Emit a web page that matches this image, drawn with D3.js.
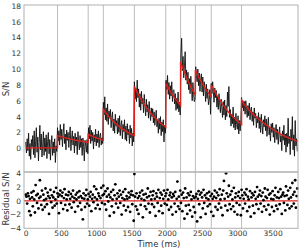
<!DOCTYPE html>
<html>
<head>
<meta charset="utf-8">
<script src="https://cdn.jsdelivr.net/npm/d3@7"></script>
<style>
  body { margin: 0; background: #fff; }
  text { font-family: "DejaVu Sans", sans-serif; fill: #333; }
</style>
</head>
<body>
<script>

// sample step of the recorded trace (ms)
const step = 10;

// stimulus onsets (ms), drawn as grey verticals
const events = [450, 885, 1100, 1540, 1985, 2195, 2405, 2630, 3060];

// recorded S/N trace, one value every 10 ms (rows of 100 ms)
const signal = [
  0.8, -0.6, 1.2, -0.3, 1.9, -1.0, 0.6, -1.4, 1.1, 0.2,
  1.6, -0.8, 2.2, -1.2, 0.9, 2.6, -0.5, 1.4, -1.6, 0.7,
  2.9, -0.2, 1.8, -1.1, 0.4, 2.1, -0.9, 1.3, -0.4, 1.7,
  -1.3, 0.9, 2.0, -0.7, 1.1, -1.5, 0.5, 1.6, -0.9, 0.8,
  -0.6, 1.2, -1.8, 0.3, -0.4, 2.6, 0.9, 2.2, 0.4, 3.0,
  1.1, 2.4, 0.2, 1.9, 3.1, 0.6, 1.8, -0.2, 2.3, 1.0,
  2.0, 0.1, 1.6, 2.7, -0.3, 1.2, 2.2, 0.4, 1.5, -0.6,
  1.9, 0.3, 1.4, -0.8, 2.1, 0.7, -0.2, 1.6, 0.1, 1.2,
  -0.9, 1.3, 0.2, -1.6, 1.0, 0.4, -0.5, 1.1, -0.7, 2.6,
  1.2, 2.9, 0.6, 2.3, 0.9, 2.0, -0.1, 1.7, 0.8, 2.4,
  0.3, 1.8, 0.7, 2.2, 0.1, 1.5, 1.9, 0.4, 1.3, 0.6,
  5.8, 4.2, 6.5, 3.6, 5.1, 3.4, 5.6, 3.0, 4.7, 3.8,
  4.9, 2.6, 3.9, 4.6, 2.2, 3.7, 1.9, 4.3, 2.8, 3.5,
  1.8, 3.8, 2.0, 4.1, 1.6, 2.9, 3.5, 1.2, 3.0, 2.1,
  3.6, 1.1, 2.8, 0.9, 3.1, 1.7, 2.4, 0.6, 2.9, 1.3,
  2.5, 0.3, 1.9, 0.8, 8.4, 6.2, 7.6, 5.9, 8.6, 6.4,
  7.5, 5.2, 6.9, 4.8, 7.2, 5.6, 6.3, 4.5, 6.8, 5.3,
  4.1, 6.2, 4.6, 5.5, 3.8, 5.9, 4.4, 3.5, 5.1, 4.0,
  5.0, 3.2, 4.6, 2.9, 3.9, 4.8, 2.7, 3.6, 1.9, 3.8,
  2.4, 4.0, 1.6, 3.3, 2.1, 3.6, 0.8, 2.9, 1.9, 8.6,
  7.4, 9.2, 6.8, 8.3, 6.2, 7.9, 6.6, 8.4, 5.9, 7.3,
  7.4, 5.6, 6.9, 4.8, 6.3, 5.0, 7.1, 4.6, 5.8, 4.2,
  12.0, 13.9, 9.8, 11.6, 8.9, 10.4, 12.2, 8.6, 9.9, 8.1,
  9.6, 7.4, 8.8, 6.9, 9.1, 7.8, 6.0, 8.3, 6.8, 5.9,
  6.2, 10.3, 9.2, 8.4, 10.0, 7.9, 9.5, 7.2, 8.8, 9.4,
  7.1, 9.0, 6.6, 8.4, 7.7, 5.9, 8.1, 6.3, 7.5, 5.5,
  6.1, 7.4, 4.3, 8.2, 6.9, 8.4, 7.1, 5.8, 7.6, 6.4,
  7.3, 5.2, 6.6, 4.9, 6.9, 5.6, 4.5, 6.2, 5.1, 3.9,
  5.9, 4.2, 6.1, 3.6, 5.4, 4.0, 7.1, 5.3, 7.8, 3.9,
  4.9, 2.8, 4.3, 3.1, 5.2, 2.6, 3.9, 2.3, 4.4, 3.0,
  2.4, 4.1, 1.8, 3.5, 2.2, 3.6, 6.4, 5.1, 6.0, 4.7,
  5.9, 4.3, 6.0, 4.8, 3.9, 5.4, 4.1, 5.7, 3.6, 4.9,
  5.2, 3.4, 4.6, 2.9, 5.1, 3.8, 4.4, 2.6, 4.0, 3.2,
  4.5, 2.5, 3.9, 2.0, 4.3, 3.0, 1.8, 3.6, 2.7, 4.1,
  2.2, 3.7, 1.5, 2.9, 3.9, 1.7, 2.6, 0.9, 3.1, 2.0,
  3.2, 1.4, 2.6, 0.7, 2.1, 3.0, 1.1, 2.4, 0.5, 1.9,
  2.7, 0.8, 1.6, -0.3, 2.2, 1.0, 2.9, 0.4, 1.8, -0.5,
  1.9, 0.2, 3.8, 0.6, 1.5, -0.8, 2.4, 0.9, 4.0, -0.2,
  1.7, -1.0, 3.5, 0.3, 1.2, -0.4
];

// fitted model, read as knots (ms, S/N); a repeated time at each onset makes the jump
const fitTime = [
  0, 450,
  450, 550, 650, 750, 885,
  885, 950, 1000, 1050, 1100,
  1100, 1150, 1200, 1250, 1300, 1350, 1400, 1450, 1500, 1540,
  1540, 1600, 1650, 1700, 1750, 1800, 1850, 1900, 1950, 1985,
  1985, 2050, 2100, 2150, 2195,
  2195, 2250, 2300, 2350, 2405,
  2405, 2450, 2500, 2550, 2600, 2630,
  2630, 2700, 2750, 2800, 2850, 2900, 2950, 3000, 3060,
  3060, 3100, 3150, 3200, 3250, 3300, 3400, 3500, 3600, 3700, 3800, 3860
];
const fitValue = [
  0.05, 0.05,
  1.6, 1.35, 1.12, 0.95, 0.73,
  1.75, 1.5, 1.32, 1.15, 1.0,
  4.9, 4.3, 3.78, 3.33, 2.93, 2.58, 2.27, 2.0, 1.76, 1.6,
  7.8, 6.75, 6.0, 5.3, 4.7, 4.15, 3.7, 3.25, 2.9, 2.65,
  8.2, 7.2, 6.5, 5.9, 5.4,
  10.9, 9.6, 8.5, 7.6, 6.7,
  9.9, 9.0, 8.2, 7.5, 6.85, 6.5,
  8.0, 6.8, 6.1, 5.45, 4.85, 4.3, 3.85, 3.45, 3.0,
  6.1, 5.55, 5.0, 4.5, 4.1, 3.7, 3.0, 2.4, 1.85, 1.4, 1.05, 0.87
];

// residual S/N, same 10 ms grid as the trace
const residual = [
  0.9, 0.6, -0.4, 1.1, 0.7, -1.5, 0.3, -2.1, 1.2, 0.5,
  -0.8, 1.4, 0.2, -1.7, 2.3, 0.8, -0.3, 1.0, -1.1, 0.4,
  3.0, 0.6, -0.6, 1.5, -1.3, 0.9, 0.1, -0.9, 1.8, 0.3,
  -0.5, 1.2, 0.7, -1.9, 0.4, 1.6, -0.2, 0.8, -1.0, 0.5,
  1.3, -0.7, 0.2, 1.9, -0.4, 1.1, 0.6, -1.8, 0.9, 1.5,
  -0.3, 0.7, 1.2, -1.2, 0.4, 1.7, -0.6, 0.9, 0.2, -1.4,
  0.8, 1.3, -0.5, 0.3, 1.0, -1.0, 0.6, 1.5, -0.2, 0.4,
  -1.6, 0.9, 0.2, 1.2, -0.8, 0.5, 1.4, -0.3, 0.7, -1.3,
  0.4, -2.7, 1.1, 0.3, -0.9, 0.8, 1.6, -0.4, 0.2, 1.0,
  -0.7, 0.6, 1.3, -1.5, 0.3, 0.9, -0.2, 2.1, 0.5, -1.1,
  1.7, 0.2, -0.6, 1.1, 0.7, -1.2, 0.4, 1.9, -0.3, 0.8,
  2.2, 1.0, -0.5, 1.4, -1.3, 0.6, 1.8, -0.1, 0.9, -2.2,
  0.5, 1.3, -0.8, 0.2, 1.6, -1.7, 0.8, 2.4, -0.4, 0.3,
  1.1, -1.0, 0.6, 1.5, -0.3, 0.9, -2.0, 0.4, 1.3, -0.7,
  0.2, 1.7, -1.4, 0.7, 0.3, -0.9, 1.2, 0.5, -1.6, 0.9,
  1.4, -0.5, 0.8, -2.9, 3.9, 0.6, -0.8, 1.1, -1.3, 0.4,
  -1.9, 0.7, 1.2, -0.6, 0.3, 1.5, -2.4, 0.9, 0.1, -0.8,
  1.0, -1.2, 0.5, 1.8, -0.4, 0.7, -1.7, 1.3, 0.2, -0.5,
  0.8, 1.4, -0.9, 0.3, -2.2, 1.1, 0.6, -0.3, 1.6, -1.5,
  0.4, 1.2, -0.7, 0.9, -1.8, 0.3, 1.5, -0.4, 0.7, 1.1,
  -0.6, 1.6, 0.2, -1.3, 0.8, 1.2, -0.9, 0.5, -2.0, 1.0,
  0.7, -0.4, 1.3, -1.6, 0.3, 2.8, -0.8, 0.6, -1.2, 1.5,
  -0.3, 0.9, -1.5, 1.2, 0.4, -2.6, 1.8, -0.7, 0.5, -1.9,
  1.1, -0.6, 0.8, -1.4, 1.3, 0.2, -2.3, 0.7, -0.9, 0.4,
  -1.7, 0.6, 1.0, -3.0, 0.3, 1.4, -0.5, 0.9, -2.4, 1.2,
  0.5, -1.1, 1.6, -0.3, 0.8, -1.9, 0.4, 1.1, -0.8, 0.2,
  1.3, -0.5, 0.7, -1.6, 1.0, 0.3, -2.2, 0.6, 1.5, -0.9,
  0.4, 1.2, -1.3, 0.8, -0.4, 1.7, 0.2, -1.0, 0.9, -2.1,
  1.5, 2.9, 0.3, -0.7, 4.0, 1.1, -1.4, 0.6, 2.2, -0.5,
  0.9, -1.2, 1.4, 0.2, -0.8, 1.9, -1.6, 0.5, 1.1, -0.3,
  -2.0, 0.7, 1.3, -0.6, 0.4, -2.1, 1.6, 0.8, -1.1, 0.3,
  1.2, -0.4, 0.9, 1.7, -1.5, 0.6, 0.2, -0.9, 1.4, -2.3,
  0.5, 1.1, -0.7, 0.8, -1.8, 1.3, 0.3, -0.5, 2.0, 0.6,
  -1.2, 0.9, 1.5, -0.4, 0.7, -1.6, 1.2, 0.1, -0.8, 1.8,
  0.6, -1.3, 0.4, 1.6, -0.6, 0.9, -2.0, 1.1, 0.3, -0.9,
  1.4, 0.2, -1.5, 0.8, 1.9, -0.7, 0.5, -1.2, 1.3, 0.4,
  -0.5, 1.7, 0.6, -1.9, 0.9, 1.2, -0.3, 0.7, -1.4, 2.1,
  0.8, -0.6, 1.5, 0.3, -1.1, 1.9, 0.5, -0.8, 2.6, 0.9,
  -0.4, 1.3, 3.0, -1.0, 0.7, 1.8
];

const topTicks = [0, 2, 4, 6, 8, 10, 12, 14, 16, 18];
const resTicks = [-4, -2, 0, 2, 4];
const timeTicks = [0, 500, 1000, 1500, 2000, 2500, 3000, 3500];

const W = 300, H = 250;
const left = 24, right = 298;
const topY = 5, midY = 172, botY = 228.3;

let svg = d3.select("body")
            .append("svg")
                .attr("width", W)
                .attr("height", H);

// ---------------------------//
//       SCALES                //
// ---------------------------//
const x = d3.scaleLinear().domain([-25, 3860]).range([left, right]);
const yTop = d3.scaleLinear().domain([-3, 18.1]).range([midY, topY]);
const yRes = d3.scaleLinear().domain([-4, 4.2]).range([botY, midY]);

svg.append("clipPath").attr("id", "clipTop")
    .append("rect").attr("x", left).attr("y", topY)
    .attr("width", right - left).attr("height", midY - topY);

// event markers through both panels
svg.append("g")
    .selectAll("line")
    .data(events)
    .enter()
    .append("line")
        .attr("x1", d => x(d)).attr("x2", d => x(d))
        .attr("y1", topY).attr("y2", botY)
        .attr("stroke", "#bdbdbd")
        .attr("stroke-width", 1);

// ------------------//
//    TOP PANEL      //
// ------------------//
const trace = d3.line()
    .x((d, i) => x(i * step))
    .y(d => yTop(d));

svg.append("path")
    .datum(signal)
    .attr("clip-path", "url(#clipTop)")
    .attr("d", trace)
    .attr("fill", "none")
    .attr("stroke", "#111")
    .attr("stroke-width", 0.9);

const fitLine = d3.line()
    .x((d, i) => x(fitTime[i]))
    .y(d => yTop(d));

svg.append("path")
    .datum(fitValue)
    .attr("d", fitLine)
    .attr("fill", "none")
    .attr("stroke", "#e0201b")
    .attr("stroke-width", 1.4);

// ------------------//
//   RESIDUALS       //
// ------------------//
svg.append("line")
    .attr("x1", left).attr("x2", right)
    .attr("y1", yRes(0)).attr("y2", yRes(0))
    .attr("stroke", "#e0201b")
    .attr("stroke-width", 1.4);

svg.append("g")
    .selectAll("circle")
    .data(residual)
    .enter()
    .append("circle")
        .attr("cx", (d, i) => x(i * step))
        .attr("cy", d => yRes(d))
        .attr("r", 1.4)
        .attr("fill", "#000");

// ------------------//
//   FRAMES & AXES   //
// ------------------//
[[topY, midY], [midY, botY]].forEach(([a, b]) => {
    svg.append("rect")
        .attr("x", left).attr("y", a)
        .attr("width", right - left).attr("height", b - a)
        .attr("fill", "none")
        .attr("stroke", "#b0b0b0")
        .attr("stroke-width", 1);
});

function styleAxis(g) {
    g.select(".domain").remove();
    g.selectAll("text").style("font-size", "7.5px").attr("fill", "#333");
}

svg.append("g")
    .attr("transform", "translate(" + left + ",0)")
    .call(d3.axisLeft(yTop).tickValues(topTicks).tickSize(0).tickPadding(3))
    .call(styleAxis);

svg.append("g")
    .attr("transform", "translate(" + left + ",0)")
    .call(d3.axisLeft(yRes).tickValues(resTicks).tickSize(0).tickPadding(3))
    .call(styleAxis);

svg.append("g")
    .attr("transform", "translate(0," + botY + ")")
    .call(d3.axisBottom(x).tickValues(timeTicks).tickFormat(d3.format("d")).tickSize(0).tickPadding(2))
    .call(styleAxis);

// axis titles
svg.append("text")
    .attr("transform", "translate(9,89) rotate(-90)")
    .attr("text-anchor", "middle")
    .style("font-size", "8.5px")
    .text("S/N");

svg.append("text")
    .attr("transform", "translate(9,199) rotate(-90)")
    .attr("text-anchor", "middle")
    .style("font-size", "8.5px")
    .text("Residual S/N");

svg.append("text")
    .attr("x", 159)
    .attr("y", 247)
    .attr("text-anchor", "middle")
    .style("font-size", "8.5px")
    .text("Time (ms)");

</script>
</body>
</html>
